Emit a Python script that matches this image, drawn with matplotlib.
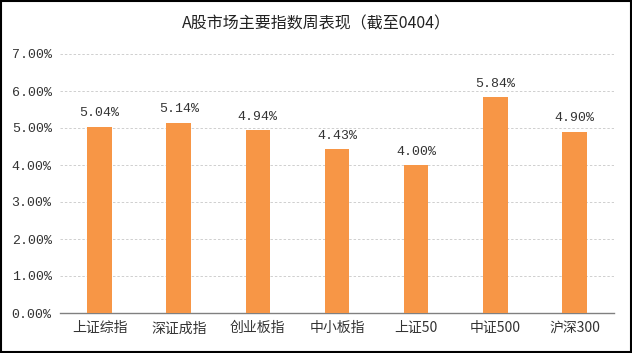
import matplotlib
matplotlib.use("Agg")
import matplotlib.pyplot as plt
from matplotlib.ticker import FuncFormatter, MultipleLocator
from matplotlib.patches import Rectangle

categories = ["上证综指", "深证成指", "创业板指", "中小板指", "上证50", "中证500", "沪深300"]
values = [5.04, 5.14, 4.94, 4.43, 4.00, 5.84, 4.90]
title = "A股市场主要指数周表现（截至0404）"

plt.rcParams['font.family'] = ['Noto Sans CJK SC', 'DejaVu Sans']

fig = plt.figure(figsize=(6.32, 3.53), dpi=100)
ax = fig.add_axes([60/632, 1-313/353, 554/632, 259/353])

x = range(len(categories))
bars = ax.bar(x, values, width=0.31, color="#F79646", zorder=3)
for xi, v in zip(x, values):
    ax.text(xi, v + 0.2, f"{v:.2f}%", ha="center", va="bottom", fontsize=9.5,
            family=['Liberation Mono', 'DejaVu Sans'], color="#333333")

ax.set_xlim(-0.5, len(categories) - 0.5)
ax.set_ylim(0, 7)
ax.yaxis.set_major_locator(MultipleLocator(1))
ax.yaxis.set_major_formatter(FuncFormatter(lambda v, p: f"{v:.2f}%"))
ax.set_xticks(list(x))
ax.set_xticklabels(categories, fontsize=10, color="#333333")
for lab in ax.get_yticklabels():
    lab.set_family(['Liberation Mono', 'DejaVu Sans'])
    lab.set_fontsize(9.5)
    lab.set_color("#333333")
ax.tick_params(axis="both", length=0, pad=6)
ax.grid(axis="y", linestyle=(0, (2.5, 2)), color="#CFCFCF", linewidth=0.7, zorder=0)
for s in ["top", "right", "left"]:
    ax.spines[s].set_visible(False)
ax.spines["bottom"].set_color("#808080")
ax.spines["bottom"].set_linewidth(1.0)

fig.text(0.5, 1-24/353, title, ha="center", va="center", fontsize=11.5, color="#222222")
fig.patches.append(Rectangle((0.002, 0.003), 0.996, 0.994, transform=fig.transFigure,
                             fill=False, edgecolor="black", linewidth=1.5))
fig.savefig("out.png", dpi=100)
